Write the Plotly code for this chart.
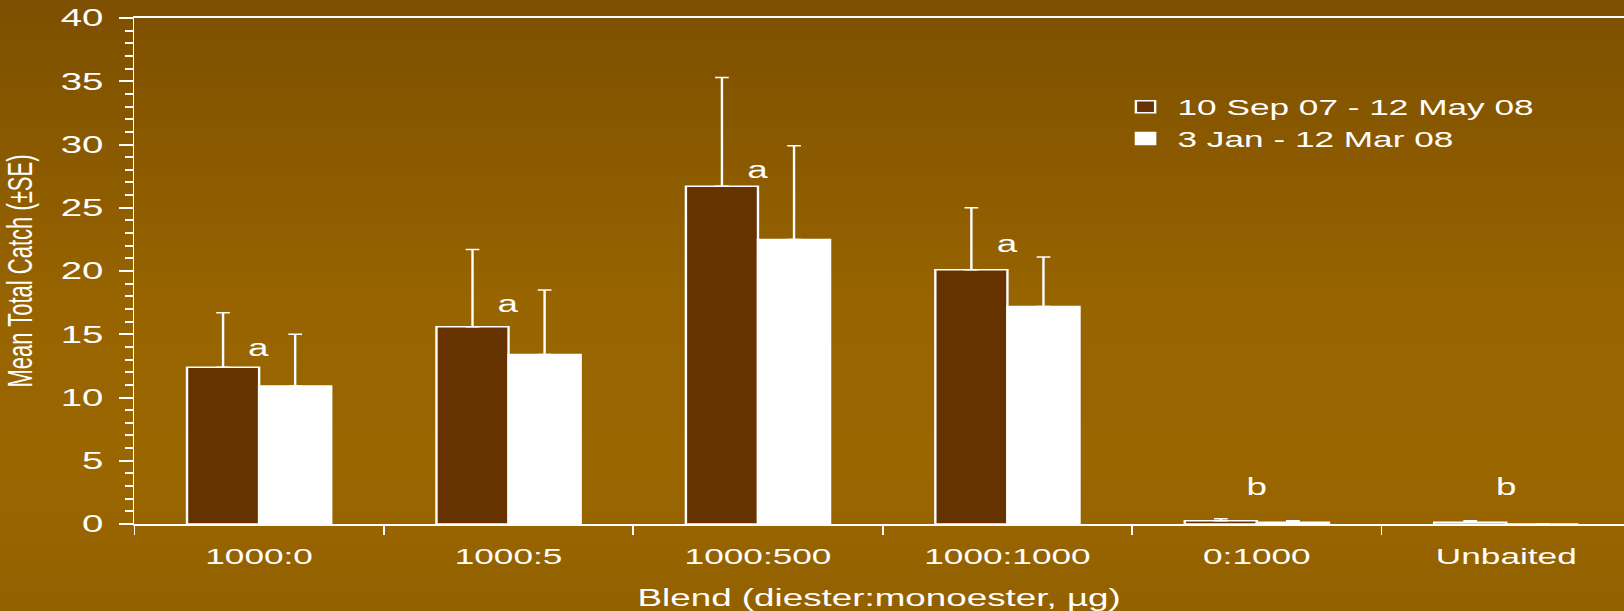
import plotly.graph_objects as go

# Trap catch by lure blend, two trapping periods
blends = ["1000:0", "1000:5", "1000:500", "1000:1000", "0:1000", "Unbaited"]
period_long = "10 Sep 07 - 12 May 08"
period_short = "3 Jan - 12 Mar 08"

mean_long = [12.4, 15.6, 26.7, 20.1, 0.25, 0.13]
se_long = [4.3, 6.1, 8.6, 4.9, 0.17, 0.13]
mean_short = [10.9, 13.4, 22.5, 17.2, 0.13, 0.0]
se_short = [4.1, 5.1, 7.4, 3.9, 0.13, 0.0]

# Significance letters and the height they sit at
sig_letters = ["a", "a", "a", "a", "b", "b"]
sig_heights = [13.9, 17.4, 28.0, 22.1, 2.9, 2.9]

# Drawing is done on a narrower canvas and widened horizontally by the page
STRETCH = 1.6
FULL_W, FULL_H = 1624, 611
W = FULL_W / STRETCH
L = 134.6 / STRETCH
T, B = 18, 87
PLOT_W = W - L
PLOT_H = FULL_H - T - B

FONT = "Liberation Sans, Arial, sans-serif"
DARK = "#663300"
WHITE = "#ffffff"

fig = go.Figure()
fig.add_trace(go.Bar(
    x=blends, y=mean_long, name=period_long,
    marker=dict(color=DARK, line=dict(color=WHITE, width=1.5)),
    error_y=dict(type="data", array=se_long, symmetric=False,
                 arrayminus=[0] * len(se_long),
                 color=WHITE, thickness=1.5, width=4.3),
))
fig.add_trace(go.Bar(
    x=blends, y=mean_short, name=period_short,
    marker=dict(color=WHITE, line=dict(color=WHITE, width=1.5)),
    error_y=dict(type="data", array=se_short, symmetric=False,
                 arrayminus=[0] * len(se_short),
                 color=WHITE, thickness=1.5, width=4.3),
))

for blend, letter, h in zip(blends, sig_letters, sig_heights):
    fig.add_annotation(x=blend, y=h, text=letter, showarrow=False,
                       font=dict(family=FONT, size=23, color=WHITE),
                       xanchor="center", yanchor="middle")

# Vertical gradient behind the whole figure, built from thin strips
stops = [(0, (125, 79, 0)), (300, (151, 100, 0)), (470, (154, 102, 0)), (611, (147, 97, 0))]


def colour_at(y):
    for (y0, c0), (y1, c1) in zip(stops[:-1], stops[1:]):
        if y0 <= y <= y1:
            f = (y - y0) / (y1 - y0)
            return "rgb(%d,%d,%d)" % tuple(round(a + (b - a) * f) for a, b in zip(c0, c1))
    return "rgb(%d,%d,%d)" % stops[-1][1]


n_strips = 80
step = FULL_H / n_strips
for i in range(n_strips):
    ytop = i * step
    ybot = ytop + step + 0.6
    fig.add_shape(type="rect", xref="paper", yref="paper", layer="below",
                  x0=-0.2, x1=1.1,
                  y0=(FULL_H - B - ybot) / PLOT_H, y1=(FULL_H - B - ytop) / PLOT_H,
                  line=dict(width=0), fillcolor=colour_at(ytop + step / 2))

fig.update_layout(
    width=W, height=FULL_H,
    margin=dict(l=L, r=0, t=T, b=B, pad=0),
    paper_bgcolor="#8f5e00",
    plot_bgcolor="rgba(0,0,0,0)",
    barmode="group", bargap=0.422, bargroupgap=0,
    font=dict(family=FONT, color=WHITE),
    showlegend=True,
    legend=dict(x=(736 - L - 40) / PLOT_W, y=(FULL_H - B - 86) / PLOT_H,
                xanchor="left", yanchor="top",
                bgcolor="rgba(0,0,0,0)",
                font=dict(family=FONT, size=22, color=WHITE),
                itemwidth=30, tracegroupgap=0),
)

fig.update_xaxes(
    range=[-0.5, 5.5 - 7 / 249.35],
    showline=True, linecolor=WHITE, linewidth=2, mirror=True,
    ticks="outside", tickson="boundaries", ticklen=9, tickwidth=1.3, tickcolor=WHITE,
    tickfont=dict(family=FONT, size=22, color=WHITE),
    ticklabelstandoff=12,
    showgrid=False, zeroline=False,
    title=dict(text="Blend (diester:monoester, µg)",
               font=dict(family=FONT, size=23, color=WHITE), standoff=22),
)
fig.update_yaxes(
    range=[0, 40], dtick=5,
    showline=True, linecolor=WHITE, linewidth=1.3,
    ticks="outside", ticklen=8.4, tickwidth=2, tickcolor=WHITE,
    minor=dict(dtick=1, ticks="outside", ticklen=5, tickwidth=2, tickcolor=WHITE),
    tickfont=dict(family=FONT, size=24, color=WHITE),
    ticklabelstandoff=5,
    showgrid=False, zeroline=False,
    title=dict(text="Mean Total Catch (±SE)",
               font=dict(family=FONT, size=22, color=WHITE), standoff=14),
)

stretch_js = """
var gd = document.getElementById('{plot_id}');
document.documentElement.style.margin = '0';
document.body.style.margin = '0';
document.body.style.overflow = 'hidden';
gd.style.transformOrigin = '0 0';
gd.style.transform = 'scaleX(%s)';
""" % STRETCH

fig.write_html("out.html", post_script=stretch_js)
